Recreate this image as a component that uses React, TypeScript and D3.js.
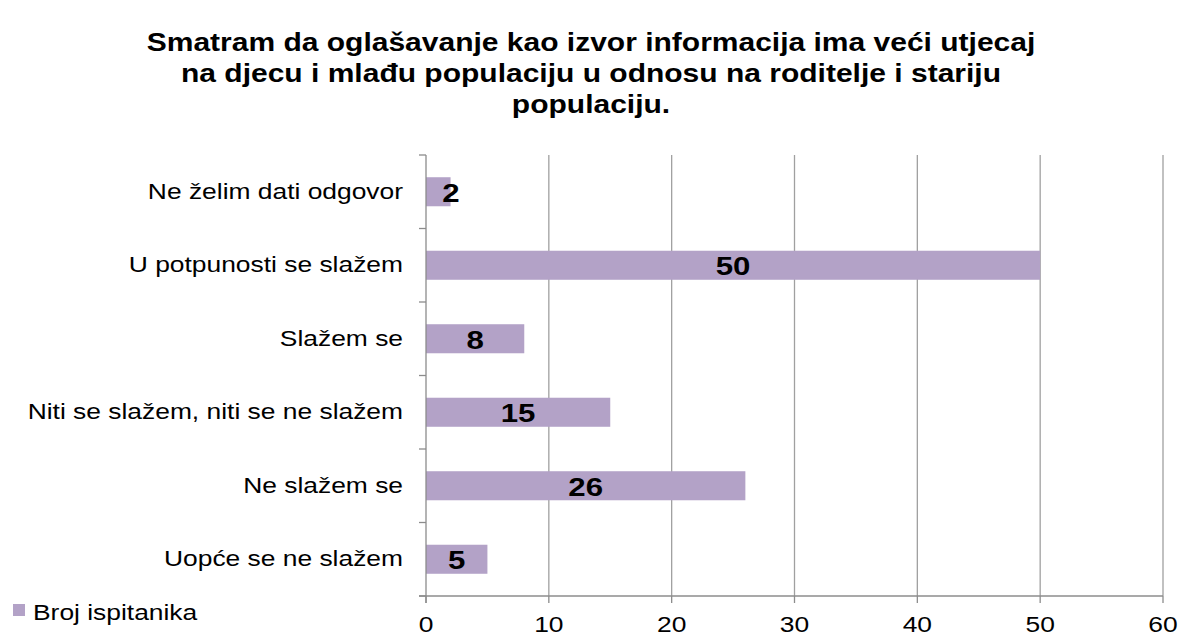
import { useEffect, useRef } from "react"
import * as d3 from "d3"

const titleLines = [
  "Smatram da oglašavanje kao izvor informacija ima veći utjecaj",
  "na djecu i mlađu populaciju u odnosu na roditelje i stariju",
  "populaciju.",
]
const categories = [
  "Ne želim dati odgovor",
  "U potpunosti se slažem",
  "Slažem se",
  "Niti se slažem, niti se ne slažem",
  "Ne slažem se",
  "Uopće se ne slažem",
]
const values = [2, 50, 8, 15, 26, 5]
const xTicks = [0, 10, 20, 30, 40, 50, 60]
const seriesName = "Broj ispitanika"

const App = () => {
  const svgRef = useRef<SVGSVGElement | null>(null)

  useEffect(() => {
    const width = 1182
    const height = 637
    const font = "'Liberation Sans', Arial, sans-serif"
    const stretch = 1.2 // the original picture is wider than it is tall
    const barColor = "#b3a2c7"
    const gridColor = "#a0a0a0"
    const axisColor = "#8c8c8c"
    const plot = { left: 426, right: 1163, top: 155, bottom: 596 }

    const svg = d3.select(svgRef.current).attr("width", width).attr("height", height)
    svg.selectAll("*").remove()
    svg.append("rect").attr("width", width).attr("height", height).attr("fill", "#fff")

    // text helper: stretched horizontally around its anchor point
    const addText = (x, y, str, size, anchor, weight = "normal") =>
      svg
        .append("g")
        .attr("transform", `translate(${x},${y}) scale(${stretch},1)`)
        .append("text")
        .attr("text-anchor", anchor)
        .style("font-family", font)
        .style("font-size", `${size}px`)
        .style("font-weight", weight)
        .attr("fill", "#000")
        .text(str)

    const x = d3.scaleLinear().domain([0, 60]).range([plot.left, plot.right])
    const y = d3
      .scaleBand()
      .domain(categories)
      .range([plot.top, plot.bottom])
      .paddingInner(0.605)
      .paddingOuter(0.3025)

    // title
    titleLines.forEach((line, i) => addText(width / 2, 51 + i * 31, line, 25, "middle", "bold"))

    // gridlines
    svg
      .selectAll(".grid")
      .data(xTicks.filter((t) => t > 0))
      .enter()
      .append("line")
      .attr("x1", (d) => x(d))
      .attr("x2", (d) => x(d))
      .attr("y1", plot.top)
      .attr("y2", plot.bottom)
      .attr("stroke", gridColor)
      .attr("stroke-width", 1.3)

    // bars
    svg
      .selectAll(".bar")
      .data(categories)
      .enter()
      .append("rect")
      .attr("x", x(0))
      .attr("y", (d) => y(d))
      .attr("width", (d, i) => x(values[i]) - x(0))
      .attr("height", y.bandwidth())
      .attr("fill", barColor)

    // axes
    const step = y.step()
    svg
      .append("line")
      .attr("x1", plot.left)
      .attr("x2", plot.left)
      .attr("y1", plot.top)
      .attr("y2", plot.bottom + 7)
      .attr("stroke", axisColor)
      .attr("stroke-width", 1.3)
    d3.range(categories.length + 1).forEach((i) => {
      svg
        .append("line")
        .attr("x1", plot.left - 7)
        .attr("x2", plot.left)
        .attr("y1", plot.top + i * step)
        .attr("y2", plot.top + i * step)
        .attr("stroke", axisColor)
        .attr("stroke-width", 1.3)
    })
    svg
      .append("line")
      .attr("x1", plot.left - 7)
      .attr("x2", plot.right)
      .attr("y1", plot.bottom)
      .attr("y2", plot.bottom)
      .attr("stroke", axisColor)
      .attr("stroke-width", 1.3)
    xTicks.forEach((t) => {
      svg
        .append("line")
        .attr("x1", x(t))
        .attr("x2", x(t))
        .attr("y1", plot.bottom)
        .attr("y2", plot.bottom + 7)
        .attr("stroke", axisColor)
        .attr("stroke-width", 1.3)
      addText(x(t), 632, String(t), 22, "middle")
    })

    // category labels
    categories.forEach((c) => addText(403, y(c) + y.bandwidth() / 2 + 7, c, 22, "end"))

    // value labels
    categories.forEach((c, i) => {
      const cx = Math.max((x(0) + x(values[i])) / 2, x(0) + 25)
      addText(cx, y(c) + y.bandwidth() / 2 + 10, String(values[i]), 26, "middle", "bold")
    })

    // legend
    svg.append("rect").attr("x", 13).attr("y", 604).attr("width", 12).attr("height", 12).attr("fill", barColor)
    addText(33, 620, seriesName, 22, "start")
  }, [])

  return (
    <div style={{ position: "absolute", left: 0, top: 0 }}>
      <svg ref={svgRef} style={{ display: "block" }}></svg>
    </div>
  )
}

export default App
